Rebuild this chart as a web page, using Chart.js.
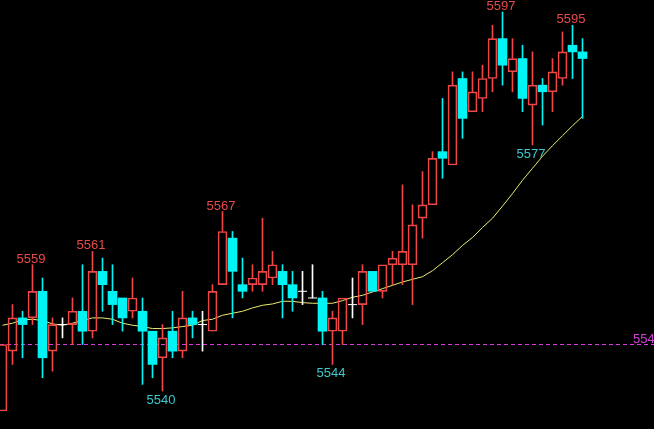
<!DOCTYPE html>
<html>
<head>
<meta charset="utf-8">
<script src="https://cdn.jsdelivr.net/npm/chart.js@4/dist/chart.umd.min.js"></script>
<style>
html,body{margin:0;padding:0;background:#000;overflow:hidden;}
canvas{display:block;}
</style>
</head>
<body>
<canvas id="c" width="654" height="429"></canvas>
<script>
const openP  = [5537,5546,5551,5551,5555,5546,5550,5550,5552,5549,5558,5555,5554,5552,5552,5549,5545,5549,5546,5551,5550,5549,5556,5563,5556,5556,5556,5557,5558,5556,5555,5554,5554,5549,5549,5553,5553,5558,5555,5559,5559,5559,5566,5568,5576,5574,5587,5582,5584,5587,5593,5588,5590,5583,5586,5585,5587,5592,5591];
const highP  = [5547,5553,5552,5559,5557,5551,5551,5554,5559,5561,5560,5559,5554,5557,5554,5549,5550,5552,5555,5552,5552,5556,5567,5564,5560,5559,5566,5561,5559,5558,5558,5559,5555,5552,5554,5557,5559,5558,5559,5561,5571,5568,5573,5576,5584,5588,5588,5588,5589,5595,5597,5593,5592,5591,5587,5590,5594,5595,5593];
const lowP   = [5537,5544,5545,5550,5542,5543,5548,5547,5547,5548,5552,5550,5549,5551,5541,5542,5540,5545,5545,5548,5546,5549,5556,5551,5554,5555,5555,5556,5551,5552,5553,5554,5547,5544,5547,5551,5550,5555,5554,5556,5556,5553,5563,5568,5572,5574,5578,5582,5582,5585,5586,5585,5582,5577,5580,5582,5586,5587,5581];
const closeP = [5547,5551,5550,5555,5545,5550,5550,5552,5549,5558,5556,5553,5551,5554,5549,5544,5548,5546,5551,5550,5550,5555,5564,5558,5555,5557,5558,5559,5556,5554,5555,5554,5549,5551,5554,5553,5558,5555,5559,5560,5561,5565,5568,5575,5575,5586,5581,5585,5587,5593,5589,5590,5584,5586,5585,5588,5591,5591,5590];
const maLine = [5549.9,5550.2,5550.7,5550.8,5550.6,5550.1,5549.9,5550.2,5550.6,5551.0,5551.0,5550.8,5550.2,5549.9,5549.7,5549.4,5549.4,5549.5,5549.7,5549.9,5550.6,5550.8,5551.4,5551.7,5552.0,5552.5,5552.9,5553.1,5553.5,5553.5,5553.3,5553.2,5553.2,5553.2,5553.6,5554.1,5554.4,5554.9,5555.4,5555.9,5556.4,5556.8,5557.2,5558.1,5559.3,5560.5,5561.9,5563.1,5564.6,5566.0,5567.8,5569.7,5571.7,5573.5,5575.3,5576.9,5578.4,5579.9,5581.3];
const refLevel = 5547;
const refLabel = "5547";
const highMarkIdx = [3,9,22,50,57];
const lowMarkIdx  = [16,33,53];

const RED = '#f04646', CYAN = '#00f4f4', WHITE = '#ffffff';
const colorOf = i => closeP[i] > openP[i] ? RED : (closeP[i] < openP[i] ? CYAN : WHITE);

const upBodies = [], downBodies = [], dojis = [], upperW = [], upperC = [], lowerW = [], lowerC = [];
openP.forEach((o, i) => {
  const c = closeP[i], top = Math.max(o, c), bot = Math.min(o, c);
  if (c > o) upBodies.push({x: i, y: [bot, top]});
  else if (c < o) downBodies.push({x: i, y: [bot, top]});
  else dojis.push({x: i, y: c});
  if (highP[i] > top) { upperW.push({x: i, y: [top, highP[i]]}); upperC.push(colorOf(i)); }
  if (lowP[i] < bot) { lowerW.push({x: i, y: [lowP[i], bot]}); lowerC.push(colorOf(i)); }
});

const XMIN = -0.25, XMAX = 65.15;

const labelPlugin = {
  id: 'hiLoLabels',
  afterDatasetsDraw(chart) {
    const {ctx, scales: {x, y}} = chart;
    ctx.save();
    ctx.font = '13px "Liberation Sans"';
    ctx.textAlign = 'center';
    ctx.textBaseline = 'alphabetic';
    highMarkIdx.forEach(i => {
      ctx.fillStyle = '#e84a4a';
      ctx.fillText(String(highP[i]), x.getPixelForValue(i) - 1.5, y.getPixelForValue(highP[i]) - 2);
    });
    lowMarkIdx.forEach(i => {
      ctx.fillStyle = '#3cc8cc';
      ctx.fillText(String(lowP[i]), x.getPixelForValue(i) - 1.5, y.getPixelForValue(lowP[i]) + 13);
    });
    ctx.textAlign = 'left';
    ctx.fillStyle = '#d040d8';
    ctx.fillText(refLabel, 633, y.getPixelForValue(refLevel) - 2);
    ctx.restore();
  }
};

new Chart(document.getElementById('c'), {
  type: 'bar',
  data: {
    datasets: [
      { type: 'scatter', data: dojis, pointStyle: 'line', pointRadius: 4.5, borderColor: WHITE, borderWidth: 1, order: 1 },
      { type: 'bar', data: upBodies, backgroundColor: 'rgba(0,0,0,0)', borderColor: RED, borderWidth: 1, borderSkipped: false, barThickness: 9, grouped: false, order: 2 },
      { type: 'bar', data: downBodies, backgroundColor: CYAN, borderWidth: 0, barThickness: 9, grouped: false, order: 2 },
      { type: 'bar', data: upperW, backgroundColor: upperC, borderWidth: 0, barThickness: 1, grouped: false, order: 5 },
      { type: 'bar', data: lowerW, backgroundColor: lowerC, borderWidth: 0, barThickness: 1, grouped: false, order: 5 },
      { type: 'line', data: maLine.map((v, i) => ({x: i, y: v})), borderColor: '#ecec70', borderWidth: 1, pointRadius: 0, tension: 0, order: 10 },
      { type: 'line', data: [{x: XMIN, y: refLevel}, {x: XMAX, y: refLevel}], borderColor: '#d83ce0', borderWidth: 1, borderDash: [4, 3], pointRadius: 0, order: 11 }
    ]
  },
  options: {
    responsive: false,
    devicePixelRatio: 1,
    animation: false,
    layout: { padding: 0, autoPadding: false },
    plugins: { legend: { display: false }, tooltip: { enabled: false } },
    scales: {
      x: { type: 'linear', min: XMIN, max: XMAX, offset: false, display: false },
      y: { type: 'linear', min: 5534.295, max: 5598.805, display: false }
    }
  },
  plugins: [labelPlugin]
});
</script>
</body>
</html>
